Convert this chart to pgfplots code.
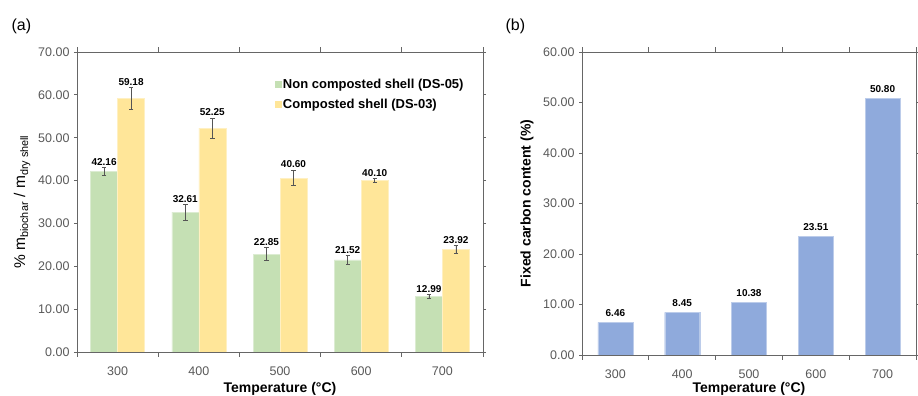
\documentclass[border=0pt]{standalone}
\usepackage{fontspec}
\setmainfont{Liberation Sans}
\usepackage{pgfplots}
\usepackage{pgfplotstable}
\pgfplotsset{compat=1.18}
\definecolor{cgreen}{HTML}{C5E0B4}
\definecolor{cyellow}{HTML}{FFE699}
\definecolor{cblue}{HTML}{8FAADC}
\definecolor{axgray}{HTML}{666666}
\definecolor{tickgray}{HTML}{595959}
\definecolor{errgray}{HTML}{555555}

\pgfplotstableread{
x g ge y ye
0 42.16 0.85 59.18 2.5
1 32.61 1.8 52.25 2.3
2 22.85 1.5 40.60 1.8
3 21.52 1.0 40.10 0.4
4 12.99 0.4 23.92 0.9
}\dataA
\pgfplotstableread{
x c
0 6.46
1 8.45
2 10.38
3 23.51
4 50.80
}\dataB

\pgfplotsset{
 common/.style={
  scale only axis,
  anchor=south west,
  xmin=-0.5, xmax=4.5,
  ymin=0,
  xtick={0,1,2,3,4},
  xticklabels={300,400,500,600,700},
  minor xtick={-0.5,0.5,1.5,2.5,3.5,4.5},
  tick align=outside,
  every major x tick/.append style={draw=none},
  every major y tick/.append style={axgray, line width=0.8pt},
  major tick length=3pt,
  minor tick length=5pt,
  every minor x tick/.append style={axgray, line width=0.8pt},
  axis line style={axgray, line width=0.9pt},
  /pgf/number format/assume math mode=true,
  tick label style={font=\fontsize{12.5}{15}\selectfont, text=tickgray},
  xticklabel style={yshift=-8pt},
  yticklabel style={xshift=-1pt, /pgf/number format/.cd, fixed, fixed zerofill, precision=2},
  label style={font=\bfseries\fontsize{14}{16}\selectfont},
 },
 lab/.style={draw=none, mark=none, forget plot,
  point meta=explicit,
  nodes near coords={\pgfmathprintnumber[fixed,fixed zerofill,precision=2]{\pgfplotspointmeta}},
  nodes near coords style={font=\bfseries\fontsize{10}{12}\selectfont, text=black, inner sep=2pt}},
 eb/.style={error bars/.cd, y dir=both, y explicit,
  error bar style={errgray, line width=0.6pt},
  error mark options={rotate=90, errgray, mark size=2.2pt, line width=0.6pt}},
}

\begin{document}
\begin{tikzpicture}
\path[use as bounding box] (0,0) rectangle (918pt,396pt);
\node[anchor=west, font=\fontsize{16}{18}\selectfont] at (8pt,370pt) {(a)};
\node[anchor=west, font=\fontsize{16}{18}\selectfont] at (502pt,370pt) {(b)};

\begin{axis}[common,
  at={(77pt,44pt)},
  width=406pt, height=300pt,
  ymax=70, ytick={0,10,...,70},
  xlabel={Temperature (°C)},
  xlabel style={at={(axis description cs:0.5,-0.123)}, anchor=center},
  ylabel={\% m\textsubscript{biochar} / m\textsubscript{dry shell}},
  ylabel style={font=\fontsize{15.5}{18}\selectfont, at={(axis description cs:-0.135,0.5)}, anchor=center},
  legend style={at={(0.48,0.925)}, anchor=north west, draw=none, fill=none,
    font=\bfseries\fontsize{13}{15}\selectfont, row sep=5pt, cells={anchor=west},
    nodes={inner sep=2pt}},
]
\addplot[ybar, bar width=27pt, bar shift=0pt,
  fill=cgreen, draw=white!40!cgreen, line width=0.4pt,
  legend image code/.code={\fill[cgreen] (0pt,-2.7pt) rectangle (5.5pt,2.7pt);},
  eb]
  table[x expr=\thisrow{x}-0.16626, y=g, y error=ge]{\dataA};
\addlegendentry{Non composted shell (DS-05)}
\addplot[ybar, bar width=27pt, bar shift=0pt,
  fill=cyellow, draw=white!40!cyellow, line width=0.4pt,
  legend image code/.code={\fill[cyellow] (0pt,-2.7pt) rectangle (5.5pt,2.7pt);},
  eb]
  table[x expr=\thisrow{x}+0.16626, y=y, y error=ye]{\dataA};
\addlegendentry{Composted shell (DS-03)}
\addplot[lab]
  table[x expr=\thisrow{x}-0.16626, y expr=\thisrow{g}+\thisrow{ge}, meta=g]{\dataA};
\addplot[lab]
  table[x expr=\thisrow{x}+0.16626, y expr=\thisrow{y}+\thisrow{ye}, meta=y]{\dataA};
\end{axis}

\begin{axis}[common,
  at={(582pt,41pt)},
  width=334pt, height=303pt,
  ymax=60, ytick={0,10,...,60},
  ybar=0pt, bar width=35pt,
  xlabel={Temperature (°C)},
  xlabel style={at={(axis description cs:0.5,-0.112)}, anchor=center},
  ylabel={Fixed carbon content (\%)},
  ylabel style={at={(axis description cs:-0.165,0.5)}, anchor=center},
  nodes near coords={\pgfmathprintnumber[fixed,fixed zerofill,precision=2]{\pgfplotspointmeta}},
  nodes near coords style={font=\bfseries\fontsize{10}{12}\selectfont, text=black, yshift=2pt},
]
\addplot[fill=cblue, draw=white!40!cblue, line width=0.4pt]
  table[x=x, y=c]{\dataB};
\end{axis}
\end{tikzpicture}
\end{document}
